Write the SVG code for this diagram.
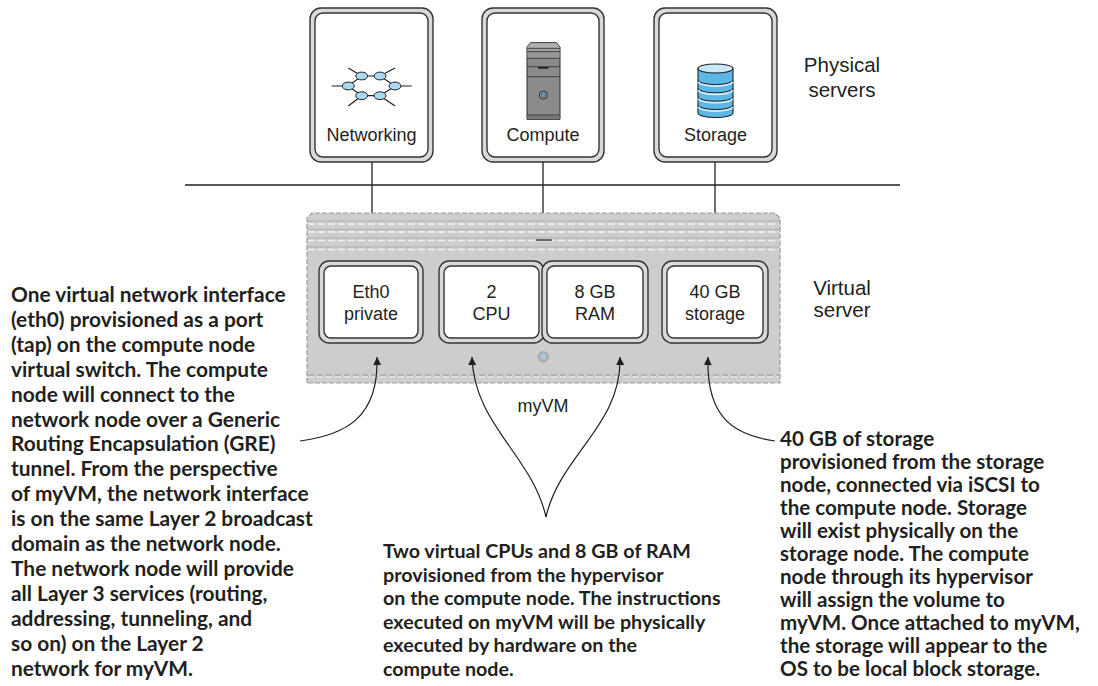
<svg xmlns="http://www.w3.org/2000/svg" width="1098" height="686" viewBox="0 0 1098 686">
  <style>
    .lbl { font-family: "Liberation Sans", Arial, sans-serif; font-size: 18px; fill: #231f20; }
    .side { font-family: "Liberation Sans", Arial, sans-serif; font-size: 20.5px; fill: #231f20; }
    .note { font-family: Lato, "Liberation Sans", sans-serif; font-weight: bold; font-size: 19.7px; fill: #231f20; }
    #note-network { font-size: 20.9px; }
    #note-storage { font-size: 20.6px; }
    .outer { fill: #d9d9d9; stroke: #333; stroke-width: 1.4; }
    .inner { fill: #fff; stroke: #333; stroke-width: 1.4; }
    .wire { fill: none; stroke: #231f20; stroke-width: 1.3; }
    .curve { fill: none; stroke: #231f20; stroke-width: 1.2; }
    .vent { stroke: #f2f2f2; stroke-width: 1.3; stroke-dasharray: 7 3; }
    .ventline { stroke: #a8a8a8; stroke-width: 0.8; }
  </style>
  <defs>
    <marker id="arrow" viewBox="0 0 10 10" refX="10" refY="5" markerUnits="userSpaceOnUse" markerWidth="10" markerHeight="8" orient="auto">
      <path d="M0,0 L10,5 L0,10 z" fill="#231f20"/>
    </marker>
  </defs>

  <rect width="1098" height="686" fill="#fff"/>

  <!-- physical network line -->
  <g id="connectors">
    <line class="wire" x1="185" y1="185" x2="900" y2="185"/>
    <line class="wire" x1="372" y1="162" x2="372" y2="261"/>
    <line class="wire" x1="543" y1="162" x2="543" y2="267"/>
    <line class="wire" x1="715" y1="162" x2="715" y2="261"/>
  </g>

  <!-- virtual server chassis -->
  <g id="virtual-server">
    <path d="M307,383 L307,218 L312,213 L775,213 L780,218 L780,383 Z" fill="#cdcdcd" stroke="#9a9a9a" stroke-width="1.2" stroke-dasharray="5 2"/>
    <line class="ventline" x1="308" y1="221" x2="779" y2="221"/>
    <line class="vent" x1="308" y1="224" x2="779" y2="224"/>
    <line class="ventline" x1="308" y1="229.5" x2="779" y2="229.5"/>
    <line class="vent" x1="308" y1="232" x2="779" y2="232"/>
    <line class="ventline" x1="308" y1="238" x2="779" y2="238"/>
    <line class="vent" x1="308" y1="240.5" x2="779" y2="240.5"/>
    <line class="ventline" x1="308" y1="247" x2="779" y2="247"/>
    <line class="vent" x1="308" y1="249.5" x2="779" y2="249.5"/>
    <line x1="308" y1="375" x2="779" y2="375" stroke="#999" stroke-width="1.2" stroke-dasharray="6 3"/>
    <line x1="308" y1="377" x2="779" y2="377" stroke="#eeeeee" stroke-width="1" stroke-dasharray="6 3"/>
    <line x1="536" y1="240" x2="552" y2="240" stroke="#6b6b6b" stroke-width="2"/>
    <circle cx="543.3" cy="356.7" r="5" fill="#b5b5b5" stroke="#999" stroke-width="1"/>
    <circle cx="543.3" cy="356.7" r="2.4" fill="#8fd3f5"/>
  </g>

  <!-- physical servers -->
  <g id="networking">
    <rect class="outer" x="310" y="8" width="123" height="154" rx="11"/>
    <rect class="inner" x="315" y="13" width="113" height="144" rx="8"/>
    <g stroke="#231f20" stroke-width="1.2" fill="none">
      <path d="M348.3,68 L361.7,76 M395,68 L380,76 M411.7,86 L395,86 M395,106 L380,95.7 M348.3,106 L361.7,95.7 M331.7,86 L348.3,86"/>
      <path d="M361.7,76 L380,76 L395,86 L380,95.7 L361.7,95.7 L348.3,86 Z"/>
    </g>
    <g fill="#a9d9f2" stroke="#231f20" stroke-width="1">
      <ellipse cx="361.7" cy="76" rx="6" ry="3.9"/>
      <ellipse cx="380" cy="76" rx="6" ry="3.9"/>
      <ellipse cx="395" cy="86" rx="6" ry="3.9"/>
      <ellipse cx="380" cy="95.7" rx="6" ry="3.9"/>
      <ellipse cx="361.7" cy="95.7" rx="6" ry="3.9"/>
      <ellipse cx="348.3" cy="86" rx="6" ry="3.9"/>
    </g>
    <text class="lbl" x="371.5" y="141" text-anchor="middle">Networking</text>
  </g>

  <g id="compute">
    <rect class="outer" x="482" y="8" width="122" height="154" rx="11"/>
    <rect class="inner" x="487" y="13" width="112" height="144" rx="8"/>
    <path d="M527,119.3 L527,47 L530.5,42.7 L556.5,42.7 L560,47 L560,119.3 Z" fill="#8a8a8a" stroke="#2b2b2b" stroke-width="1"/>
    <path d="M527.3,48.3 L527.3,47 L530.7,43.2 L556.3,43.2 L559.7,47 L559.7,48.3 Z" fill="#b0b0b0"/>
    <rect x="527.5" y="48.3" width="32" height="3.4" fill="#a0a0a0"/>
    <rect x="527.5" y="51.7" width="32" height="6.6" fill="#999"/>
    <rect x="527.5" y="115" width="32" height="4" fill="#777"/>
    <g stroke="#3a3a3a" stroke-width="0.9">
      <line x1="527" y1="48.3" x2="560" y2="48.3"/>
      <line x1="527" y1="51.7" x2="560" y2="51.7"/>
      <line x1="527" y1="58.3" x2="560" y2="58.3"/>
      <line x1="527" y1="66.7" x2="560" y2="66.7"/>
      <line x1="527" y1="76.7" x2="560" y2="76.7"/>
      <line x1="527" y1="115" x2="560" y2="115"/>
    </g>
    <line x1="538" y1="67.8" x2="548.5" y2="67.8" stroke="#222" stroke-width="1.8"/>
    <circle cx="543.3" cy="95" r="4" fill="#9a9a9a" stroke="#2b2b2b" stroke-width="1"/>
    <circle cx="543.3" cy="95" r="1.9" fill="#3fb0ea" stroke="#1d4f6b" stroke-width="0.6"/>
    <text class="lbl" x="543" y="141" text-anchor="middle">Compute</text>
  </g>

  <g id="storage">
    <rect class="outer" x="654" y="8" width="123" height="154" rx="11"/>
    <rect class="inner" x="659" y="13" width="113" height="144" rx="8"/>
    <path d="M698,68.5 L698,113 A17.5,4.5 0 0 0 733,113 L733,68.5 Z" fill="#5cb6e6" stroke="#231f20" stroke-width="1.1"/>
    <ellipse cx="715.5" cy="68.5" rx="17.5" ry="4.5" fill="#c9e9f9" stroke="#231f20" stroke-width="1.1"/>
    <g fill="none">
      <path d="M698,80 A17.5,4.5 0 0 0 733,80 M698,88.3 A17.5,4.5 0 0 0 733,88.3 M698,96.7 A17.5,4.5 0 0 0 733,96.7 M698,105 A17.5,4.5 0 0 0 733,105" stroke="#231f20" stroke-width="1"/>
      <path d="M698.5,81.8 A17,4.3 0 0 0 732.5,81.8 M698.5,90.1 A17,4.3 0 0 0 732.5,90.1 M698.5,98.5 A17,4.3 0 0 0 732.5,98.5 M698.5,106.8 A17,4.3 0 0 0 732.5,106.8" stroke="#d6f0fc" stroke-width="1.6"/>
    </g>
    <text class="lbl" x="715.5" y="141" text-anchor="middle">Storage</text>
  </g>

  <!-- virtual resources -->
  <g id="eth0">
    <rect class="outer" x="319" y="261" width="104" height="82" rx="10"/>
    <rect class="inner" x="324" y="266" width="94" height="72" rx="7"/>
    <text class="lbl" x="371" y="298" text-anchor="middle">Eth0</text>
    <text class="lbl" x="371" y="320" text-anchor="middle">private</text>
  </g>
  <g id="cpu">
    <rect class="outer" x="439" y="261" width="105" height="82" rx="10"/>
    <rect class="inner" x="444" y="266" width="95" height="72" rx="7"/>
    <text class="lbl" x="491.5" y="298" text-anchor="middle">2</text>
    <text class="lbl" x="491.5" y="320" text-anchor="middle">CPU</text>
  </g>
  <g id="ram">
    <rect class="outer" x="542" y="261" width="106" height="82" rx="10"/>
    <rect class="inner" x="547" y="266" width="96" height="72" rx="7"/>
    <text class="lbl" x="595" y="298" text-anchor="middle">8 GB</text>
    <text class="lbl" x="595" y="320" text-anchor="middle">RAM</text>
  </g>
  <g id="volume">
    <rect class="outer" x="662" y="261" width="106" height="82" rx="10"/>
    <rect class="inner" x="667" y="266" width="96" height="72" rx="7"/>
    <text class="lbl" x="715" y="298" text-anchor="middle">40 GB</text>
    <text class="lbl" x="715" y="320" text-anchor="middle">storage</text>
  </g>

  <!-- annotation arrows -->
  <g id="arrows">
    <path class="curve" d="M300,441 C345,435 379,418 377,357" marker-end="url(#arrow)"/>
    <path class="curve" d="M546,517 C532,455 474,425 472,357" marker-end="url(#arrow)"/>
    <path class="curve" d="M546,517 C560,455 622,425 620,357" marker-end="url(#arrow)"/>
    <path class="curve" d="M775,441 C734,435 706,418 708,357" marker-end="url(#arrow)"/>
  </g>

  <!-- side labels -->
  <g id="labels">
    <text class="side" x="842" y="72" text-anchor="middle">Physical</text>
    <text class="side" x="842" y="97" text-anchor="middle">servers</text>
    <text class="side" x="842" y="295" text-anchor="middle">Virtual</text>
    <text class="side" x="842" y="317" text-anchor="middle">server</text>
    <text class="lbl" x="543" y="411.5" text-anchor="middle">myVM</text>
  </g>

  <!-- annotations -->
  <g id="note-network" class="note">
    <text x="11" y="302">One virtual network interface</text>
    <text x="11" y="326.9">(eth0) provisioned as a port</text>
    <text x="11" y="351.8">(tap) on the compute node</text>
    <text x="11" y="376.7">virtual switch. The compute</text>
    <text x="11" y="401.6">node will connect to the</text>
    <text x="11" y="426.5">network node over a Generic</text>
    <text x="11" y="451.4">Routing Encapsulation (GRE)</text>
    <text x="11" y="476.3">tunnel. From the perspective</text>
    <text x="11" y="501.2">of myVM, the network interface</text>
    <text x="11" y="526.1">is on the same Layer 2 broadcast</text>
    <text x="11" y="551">domain as the network node.</text>
    <text x="11" y="575.9">The network node will provide</text>
    <text x="11" y="600.8">all Layer 3 services (routing,</text>
    <text x="11" y="625.7">addressing, tunneling, and</text>
    <text x="11" y="650.6">so on) on the Layer 2</text>
    <text x="11" y="675.5">network for myVM.</text>
  </g>
  <g id="note-cpu" class="note">
    <text x="383" y="558">Two virtual CPUs and 8 GB of RAM</text>
    <text x="383" y="581.5">provisioned from the hypervisor</text>
    <text x="383" y="605">on the compute node. The instructions</text>
    <text x="383" y="628.5">executed on myVM will be physically</text>
    <text x="383" y="652">executed by hardware on the</text>
    <text x="383" y="675.5">compute node.</text>
  </g>
  <g id="note-storage" class="note">
    <text x="780" y="446">40 GB of storage</text>
    <text x="780" y="469">provisioned from the storage</text>
    <text x="780" y="492">node, connected via iSCSI to</text>
    <text x="780" y="515">the compute node. Storage</text>
    <text x="780" y="538">will exist physically on the</text>
    <text x="780" y="561">storage node. The compute</text>
    <text x="780" y="584">node through its hypervisor</text>
    <text x="780" y="607">will assign the volume to</text>
    <text x="780" y="630">myVM. Once attached to myVM,</text>
    <text x="780" y="653">the storage will appear to the</text>
    <text x="780" y="675.5">OS to be local block storage.</text>
  </g>
</svg>
